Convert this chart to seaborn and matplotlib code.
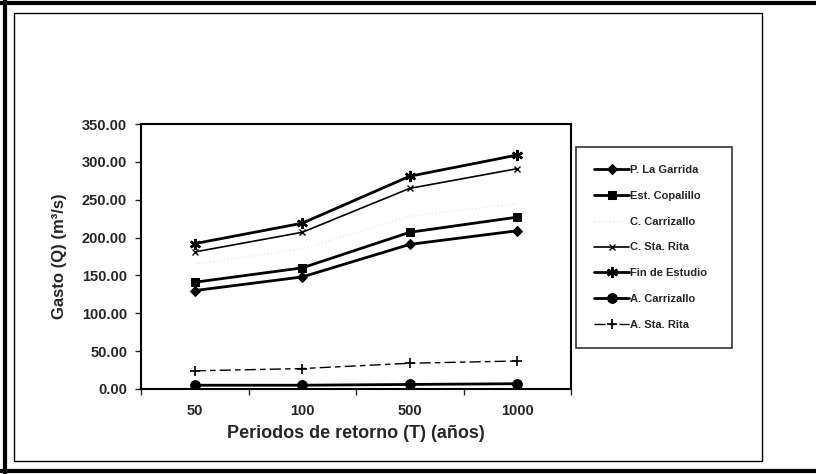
import pandas as pd
import matplotlib
matplotlib.use("Agg")
import matplotlib.pyplot as plt
from matplotlib.patches import Rectangle
from matplotlib.lines import Line2D
from matplotlib.ticker import FormatStrFormatter, FixedLocator
import seaborn as sns

# periodos de retorno (categorias del eje x)
periodos = ["50", "100", "500", "1000"]

p_la_garrida = [130, 148, 191, 209]
est_copalillo = [141, 160, 207, 227]
c_carrizallo = [165, 185, 228, 245]
c_sta_rita = [181, 207, 265, 291]
fin_de_estudio = [192, 219, 281, 309]
a_carrizallo = [5, 5, 6, 7]
a_sta_rita = [24, 27, 34, 37]

series = [
    ("P. La Garrida", p_la_garrida, dict(marker="D", markersize=5.5, linewidth=2.0, color="black")),
    ("Est. Copalillo", est_copalillo, dict(marker="s", markersize=6, linewidth=2.0, color="black")),
    ("C. Carrizallo", c_carrizallo, dict(marker=None, linewidth=1.0, color="#ebebeb", linestyle=":")),
    ("C. Sta. Rita", c_sta_rita, dict(marker="x", markersize=5, linewidth=1.2, color="black",
                                      markeredgewidth=1.0)),
    ("Fin de Estudio", fin_de_estudio, dict(marker=(6, 2, 0), markersize=8, linewidth=2.0, color="black",
                                            markeredgewidth=1.8)),
    ("A. Carrizallo", a_carrizallo, dict(marker="o", markersize=7, linewidth=2.0, color="black")),
    ("A. Sta. Rita", a_sta_rita, dict(marker="+", markersize=7, linewidth=1.0, color="black",
                                      markeredgewidth=1.2, dashes=(8, 3, 4, 3))),
]

sns.set_style("white")
plt.rcParams["font.family"] = ["Liberation Sans", "DejaVu Sans"]
plt.rcParams["font.weight"] = "bold"

fig = plt.figure(figsize=(8.16, 4.74), dpi=100)
ax = fig.add_axes([141 / 816, 1 - 389 / 474, 430 / 816, 265 / 474])

for name, vals, style in series:
    df = pd.DataFrame({"periodo": periodos, "gasto": vals})
    sns.lineplot(ax=ax, data=df, x="periodo", y="gasto", label=name, sort=False,
                 markeredgecolor=style["color"], markerfacecolor=style["color"], **style)

ax.set_xlim(-0.5, 3.5)
ax.set_ylim(0, 350)
ax.set_yticks([0, 50, 100, 150, 200, 250, 300, 350])
ax.yaxis.set_major_formatter(FormatStrFormatter("%.2f"))
ax.xaxis.set_minor_locator(FixedLocator([-0.5, 0.5, 1.5, 2.5, 3.5]))

ax.tick_params(axis="y", which="major", direction="out", length=4, width=1, pad=6,
               labelsize=10.5, left=True)
ax.tick_params(axis="x", which="major", length=0, pad=11, labelsize=10.5)
ax.tick_params(axis="x", which="minor", direction="out", length=4, width=1, bottom=True)
for lbl in ax.get_xticklabels() + ax.get_yticklabels():
    lbl.set_fontweight("bold")

for sp in ax.spines.values():
    sp.set_visible(True)
    sp.set_color("black")
    sp.set_linewidth(1.5)

ax.set_xlabel("Periodos de retorno (T) (años)", fontsize=13, fontweight="bold", labelpad=5)
ax.set_ylabel("Gasto (Q) (m³/s)", fontsize=12, fontweight="bold", labelpad=11)

handles, labels = ax.get_legend_handles_labels()
leg = ax.legend(handles, labels, loc="upper left",
                bbox_to_anchor=(576 / 816, 1 - 348 / 474, 156 / 816, 201 / 474),
                bbox_transform=fig.transFigure, mode="expand",
                prop={"size": 8, "weight": "bold"}, frameon=True, fancybox=False,
                labelspacing=1.43, borderpad=1.6, handlelength=3.2, handletextpad=0.1,
                borderaxespad=0)
leg.get_frame().set_edgecolor("black")
leg.get_frame().set_linewidth(1.2)

# marco interior y borde exterior del recorte
fig.add_artist(Rectangle((14 / 816, 1 - 461 / 474), 748 / 816, 448 / 474,
                         transform=fig.transFigure, fill=False, edgecolor="black", linewidth=1.0))
fig.add_artist(Line2D([0, 1], [1 - 3 / 474, 1 - 3 / 474], transform=fig.transFigure,
                      color="black", linewidth=3))
fig.add_artist(Line2D([5 / 816, 5 / 816], [0, 1], transform=fig.transFigure,
                      color="black", linewidth=3))
fig.add_artist(Line2D([0, 1], [1 - 471 / 474, 1 - 471 / 474], transform=fig.transFigure,
                      color="black", linewidth=3))

fig.savefig("out.png", dpi=100)
